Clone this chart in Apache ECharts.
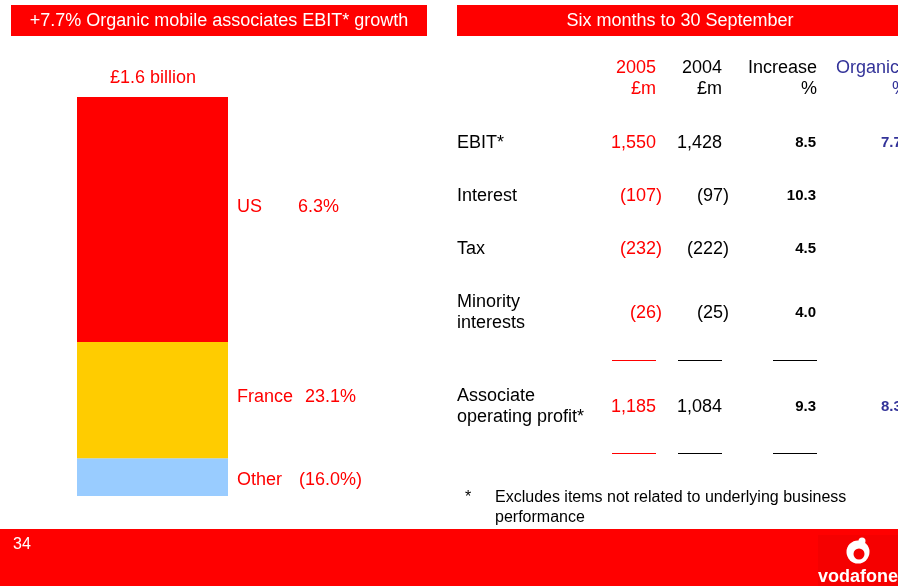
<!DOCTYPE html>
<html>
<head>
<meta charset="utf-8">
<script src="https://cdn.jsdelivr.net/npm/echarts@6/dist/echarts.min.js"></script>
<style>
    html, body { margin: 0; padding: 0; background: #fff; }
    #main { width: 898px; height: 586px; }
</style>
</head>
<body>
<div id="main"></div>
<script type="text/javascript">
    // stacked bar: split of £1.6 billion EBIT (£m), top to bottom
    var segNames = ['US', 'France', 'Other'];
    var segValues = [952, 451, 147];
    var segGrowth = ['6.3%', '23.1%', '(16.0%)'];
    var totalLabel = '£1.6 billion';

    // table
    var rowLabels = ['EBIT*', 'Interest', 'Tax', 'Minority\ninterests', 'Associate\noperating profit*'];
    var values2005 = [1550, -107, -232, -26, 1185];
    var values2004 = [1428, -97, -222, -25, 1084];
    var increasePct = ['8.5', '10.3', '4.5', '4.0', '9.3'];
    var organicPct = ['7.7', '', '', '', '8.3'];

    var RED = '#ff0000', YELLOW = '#ffcc00', LBLUE = '#99ccff', NAVY = '#333399';
    var FONT = 'Liberation Sans, Arial, sans-serif';
    var segColors = [RED, YELLOW, LBLUE];
    var segNameWidth = [61, 68, 62];
    var segLabelOffset = [-13, -3, 3];
    var rowY = [143, 196, 249, 313, 407];

    function fmt(v) {
        var s = Math.abs(v).toString().replace(/\B(?=(\d{3})+(?!\d))/g, ',');
        return v < 0 ? '(' + s + ')' : s;
    }
    function txt(x, y, text, color, size, align, bold) {
        return {
            type: 'text', x: x, y: y, z: 10,
            style: {
                text: text, fill: color, textAlign: align || 'left', textVerticalAlign: 'middle',
                font: (bold ? 'bold ' : '') + size + 'px ' + FONT, lineHeight: 21
            }
        };
    }

    var myChart = echarts.init(document.getElementById('main'));

    // stack from the bottom up, so walk the segments backwards
    var series = [];
    for (var i = segNames.length - 1; i >= 0; i--) {
        series.push({
            name: segNames[i],
            type: 'bar',
            stack: 'ebit',
            barWidth: '100%',
            data: [segValues[i]],
            itemStyle: { color: segColors[i] },
            label: {
                show: true,
                position: 'right',
                distance: 9,
                offset: [0, segLabelOffset[i]],
                formatter: '{n|' + segNames[i] + '}{p|' + segGrowth[i] + '}',
                rich: {
                    n: { width: segNameWidth[i], color: RED, fontSize: 18, fontFamily: FONT },
                    p: { color: RED, fontSize: 18, fontFamily: FONT }
                }
            }
        });
    }

    var g = [];
    // header bars
    g.push({ type: 'rect', shape: { x: 11, y: 5, width: 416, height: 31 }, style: { fill: RED } });
    g.push({ type: 'rect', shape: { x: 457, y: 5, width: 450, height: 31 }, style: { fill: RED } });
    g.push(txt(219, 21, '+7.7% Organic mobile associates EBIT* growth', '#fff', 18, 'center'));
    g.push(txt(680, 21, 'Six months to 30 September', '#fff', 18, 'center'));
    g.push(txt(153, 78, totalLabel, RED, 18, 'center'));

    // column headers
    g.push(txt(656, 68, '2005', RED, 18, 'right'));
    g.push(txt(656, 89, '£m', RED, 18, 'right'));
    g.push(txt(722, 68, '2004', '#000', 18, 'right'));
    g.push(txt(722, 89, '£m', '#000', 18, 'right'));
    g.push(txt(817, 68, 'Increase', '#000', 18, 'right'));
    g.push(txt(817, 89, '%', '#000', 18, 'right'));
    g.push(txt(836, 68, 'Organic', NAVY, 18, 'left'));
    g.push(txt(892, 89, '%', NAVY, 18, 'left'));

    for (var r = 0; r < rowLabels.length; r++) {
        var y = rowY[r];
        g.push(txt(457, y, rowLabels[r], '#000', 18, 'left'));
        g.push(txt(values2005[r] < 0 ? 662 : 656, y, fmt(values2005[r]), RED, 18, 'right'));
        g.push(txt(values2004[r] < 0 ? 729 : 722, y, fmt(values2004[r]), '#000', 18, 'right'));
        g.push(txt(816, y, increasePct[r], '#000', 15, 'right', true));
        if (organicPct[r]) g.push(txt(881, y, organicPct[r], NAVY, 15, 'left', true));
    }

    // total underlines
    [360.5, 453.5].forEach(function (ly) {
        g.push({ type: 'line', shape: { x1: 612, y1: ly, x2: 656, y2: ly }, style: { stroke: RED, lineWidth: 1 } });
        g.push({ type: 'line', shape: { x1: 678, y1: ly, x2: 722, y2: ly }, style: { stroke: '#000', lineWidth: 1 } });
        g.push({ type: 'line', shape: { x1: 773, y1: ly, x2: 817, y2: ly }, style: { stroke: '#000', lineWidth: 1 } });
    });

    // footnote
    g.push(txt(465, 498, '*', '#000', 16, 'left'));
    g.push(txt(495, 498, 'Excludes items not related to underlying business', '#000', 16, 'left'));
    g.push(txt(495, 518, 'performance', '#000', 16, 'left'));

    // footer + logo
    g.push({ type: 'rect', shape: { x: 0, y: 529, width: 898, height: 57 }, style: { fill: RED } });
    g.push({ type: 'rect', shape: { x: 818, y: 535, width: 80, height: 51 }, style: { fill: '#f50000' } });
    g.push(txt(13, 545, '34', '#fff', 16, 'left'));
    g.push({ type: 'circle', shape: { cx: 858, cy: 552, r: 11.5 }, style: { fill: '#fff' } });
    g.push({ type: 'circle', shape: { cx: 859, cy: 554, r: 5.5 }, style: { fill: '#f50000' } });
    g.push({ type: 'circle', shape: { cx: 862, cy: 541, r: 3.5 }, style: { fill: '#fff' } });
    g.push(txt(818, 577, 'vodafone', '#fff', 18, 'left', true));

    var option = {
        animation: false,
        grid: { left: 77, top: 97, width: 151, height: 399 },
        xAxis: { type: 'category', data: ['EBIT'], show: false },
        yAxis: { type: 'value', min: 0, max: 1550, show: false },
        series: series,
        graphic: { elements: g }
    };
    myChart.setOption(option, true);
</script>
</body>
</html>
